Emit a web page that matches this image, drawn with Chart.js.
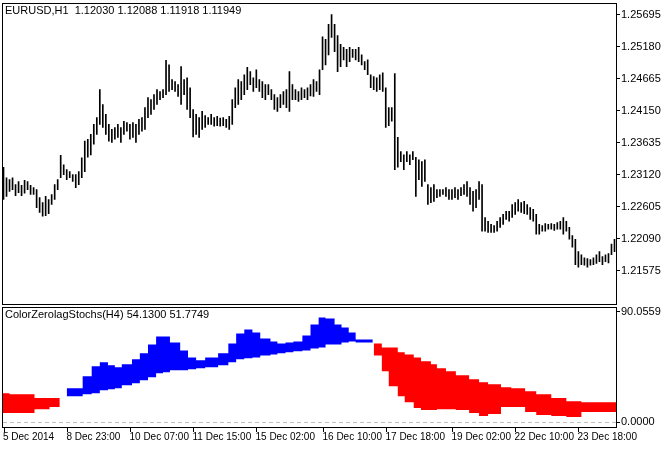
<!DOCTYPE html>
<html>
<head>
<meta charset="utf-8">
<script src="https://cdn.jsdelivr.net/npm/chart.js@4"></script>
<style>
  body { margin: 0; background: #fff; overflow: hidden; }
  #wrap { position: relative; width: 668px; height: 449px; overflow: hidden; }
  canvas { position: absolute; left: 0; }
</style>
</head>
<body>
<div id="wrap">
  <canvas id="osc" style="top:299px" width="668" height="150"></canvas>
  <canvas id="price" style="top:-5px" width="668" height="316"></canvas>
</div>
<script>
// H1 bars, high / low
const highs = [1.2324,1.2307,1.2304,1.2307,1.2296,1.2301,1.2295,1.2303,1.2301,1.2295,1.2291,1.2288,1.2275,1.2267,1.2277,1.2272,1.2280,1.2296,1.2304,1.2343,
  1.2328,1.2320,1.2317,1.2312,1.2312,1.2317,1.2339,1.2366,1.2369,1.2377,1.2393,1.2404,1.2449,1.2425,1.2409,1.2393,1.2385,1.2388,1.2393,1.2388,
  1.2398,1.2396,1.2393,1.2396,1.2393,1.2401,1.2404,1.2420,1.2436,1.2433,1.2441,1.2449,1.2446,1.2449,1.2496,1.2489,1.2465,1.2462,1.2457,1.2486,
  1.2465,1.2468,1.2452,1.2417,1.2409,1.2404,1.2414,1.2407,1.2404,1.2409,1.2404,1.2406,1.2403,1.2404,1.2401,1.2406,1.2433,1.2452,1.2465,1.2462,
  1.2473,1.2485,1.2478,1.2468,1.2481,1.2465,1.2462,1.2457,1.2457,1.2449,1.2441,1.2436,1.2441,1.2446,1.2449,1.2478,1.2457,1.2449,1.2446,1.2452,
  1.2449,1.2452,1.2457,1.2465,1.2462,1.2481,1.2534,1.2530,1.2554,1.2570,1.2554,1.2536,1.2522,1.2517,1.2514,1.2517,1.2514,1.2514,1.2517,1.2505,
  1.2494,1.2497,1.2473,1.2470,1.2468,1.2473,1.2476,1.2452,1.2420,1.2420,1.2475,1.2372,1.2349,1.2344,1.2349,1.2344,1.2349,1.2340,1.2336,1.2333,
  1.2336,1.2296,1.2291,1.2296,1.2288,1.2288,1.2288,1.2291,1.2288,1.2288,1.2291,1.2288,1.2291,1.2296,1.2301,1.2291,1.2285,1.2288,1.2301,1.2296,
  1.2243,1.2237,1.2232,1.2230,1.2237,1.2243,1.2248,1.2253,1.2253,1.2264,1.2267,1.2272,1.2267,1.2269,1.2264,1.2259,1.2256,1.2248,1.2232,1.2230,
  1.2233,1.2232,1.2233,1.2232,1.2235,1.2237,1.2243,1.2237,1.2227,1.2214,1.2208,1.2188,1.2183,1.2178,1.2177,1.2175,1.2178,1.2183,1.2188,1.2180,
  1.2183,1.2185,1.2200,1.2208];
const lows = [1.2272,1.2277,1.2285,1.2288,1.2278,1.2283,1.2278,1.2282,1.2288,1.2280,1.2280,1.2259,1.2251,1.2245,1.2246,1.2249,1.2264,1.2272,1.2288,1.2307,
  1.2312,1.2304,1.2307,1.2301,1.2291,1.2296,1.2307,1.2317,1.2340,1.2344,1.2361,1.2377,1.2393,1.2388,1.2377,1.2366,1.2364,1.2369,1.2372,1.2364,
  1.2377,1.2382,1.2369,1.2372,1.2364,1.2377,1.2382,1.2385,1.2404,1.2409,1.2417,1.2425,1.2433,1.2436,1.2441,1.2446,1.2449,1.2446,1.2438,1.2425,
  1.2441,1.2417,1.2404,1.2373,1.2377,1.2372,1.2385,1.2388,1.2393,1.2393,1.2390,1.2391,1.2390,1.2391,1.2388,1.2385,1.2393,1.2420,1.2425,1.2433,
  1.2441,1.2449,1.2457,1.2446,1.2452,1.2446,1.2436,1.2433,1.2441,1.2433,1.2417,1.2414,1.2420,1.2425,1.2420,1.2414,1.2433,1.2433,1.2430,1.2433,
  1.2436,1.2433,1.2439,1.2438,1.2446,1.2441,1.2481,1.2489,1.2505,1.2533,1.2510,1.2478,1.2486,1.2497,1.2486,1.2494,1.2501,1.2497,1.2494,1.2489,
  1.2481,1.2473,1.2452,1.2449,1.2446,1.2449,1.2446,1.2388,1.2391,1.2398,1.2320,1.2324,1.2333,1.2320,1.2333,1.2328,1.2336,1.2277,1.2304,1.2293,
  1.2301,1.2264,1.2267,1.2269,1.2275,1.2277,1.2280,1.2277,1.2272,1.2272,1.2275,1.2272,1.2278,1.2280,1.2277,1.2264,1.2253,1.2259,1.2272,1.2221,
  1.2221,1.2219,1.2219,1.2219,1.2221,1.2227,1.2232,1.2240,1.2237,1.2243,1.2248,1.2253,1.2251,1.2249,1.2248,1.2240,1.2237,1.2216,1.2216,1.2221,
  1.2221,1.2224,1.2224,1.2222,1.2224,1.2224,1.2216,1.2221,1.2208,1.2195,1.2167,1.2163,1.2167,1.2166,1.2163,1.2166,1.2167,1.2169,1.2172,1.2167,
  1.2172,1.2170,1.2183,1.2188];

const priceTicks = [1.25695, 1.25180, 1.24665, 1.24150, 1.23635, 1.23120, 1.22605, 1.22090, 1.21575];
const timeTickIdx = [0, 21, 42, 63, 84, 106, 127, 149, 170, 191];
const timeTickText = ['5 Dec 2014', '8 Dec 23:00', '10 Dec 07:00', '11 Dec 15:00', '15 Dec 02:00',
  '16 Dec 10:00', '17 Dec 18:00', '19 Dec 02:00', '22 Dec 10:00', '23 Dec 18:00'];

// oscillator bands (H4 steps): start bar index, upper, lower
const red1X = [-0.5, 2, 10.3, 15.3, 17.5, 18.7];
const red1Up = [26.0, 23.5, 22.7, 19.5, 19.5, 19.5];
const red1Lo = [20.3, 7.3, 7.3, 10.5, 12.2, 12.2];

const blueX = [21, 26.3, 29.3, 32, 34.7, 37, 39.3, 42.7, 45.3, 48, 50.7, 53, 55.3, 58.7, 61.3, 64, 67, 71.3, 74.7, 77.3,
  80, 82.7, 85.3, 88.7, 91, 93.7, 96.3, 99.3, 102, 104.7, 107, 110, 112.3, 114.7, 117, 120, 122.7];
const blueUp = [22.7, 27.6, 37.3, 45.4, 48.7, 46.2, 44.6, 47.0, 51.1, 56.0, 63.3, 69.7, 69.7, 64.9, 58.4, 52.7, 50.3, 52.7, 56.0, 64.1,
  72.2, 75.4, 73.0, 68.1, 65.7, 64.1, 64.9, 65.7, 70.6, 79.5, 85.2, 84.3, 79.5, 77.0, 73.0, 67.3, 67.3];
const blueLo = [20.3, 21.1, 22.7, 23.5, 26.0, 26.8, 27.6, 30.0, 31.6, 34.1, 36.5, 39.7, 40.6, 42.2, 42.2, 43.0, 43.8, 44.6, 46.2, 48.7,
  51.1, 51.9, 52.7, 54.3, 55.1, 56.0, 56.8, 57.6, 58.4, 60.0, 60.8, 63.3, 63.3, 64.9, 65.7, 64.9, 64.9];

const red2X = [123, 125.7, 128, 131, 133.3, 136.3, 138.7, 142, 144, 147, 150.3, 154.7, 158, 161, 165.3, 168.7, 173.3, 177, 182, 187, 192, 198.7, 203.5];
const red2Up = [64.9, 64.1, 60.8, 60.8, 56.8, 55.1, 52.7, 49.5, 47.0, 43.8, 41.4, 38.1, 34.9, 32.4, 30.8, 28.4, 27.6, 25.1, 22.7, 19.5, 17.0, 16.2, 16.2];
const red2Lo = [63.3, 54.3, 41.4, 29.2, 21.1, 16.2, 11.4, 9.7, 9.7, 10.5, 10.5, 9.7, 7.3, 4.9, 6.5, 12.2, 12.2, 8.1, 5.7, 4.9, 4.1, 8.1, 8.1];

const FONT = { family: '"Liberation Sans", Arial, sans-serif', size: 11 };

// black frame around plot area + title text
const framePlugin = {
  id: 'frame',
  afterDraw(chart, args, opts) {
    const { ctx, chartArea: a } = chart;
    ctx.save();
    ctx.strokeStyle = '#000';
    ctx.lineWidth = 1;
    ctx.strokeRect(Math.round(a.left) + 0.5, Math.round(a.top) + 0.5, Math.round(a.width), Math.round(a.height));
    ctx.fillStyle = '#000';
    ctx.font = '11px ' + FONT.family;
    ctx.textBaseline = 'top';
    ctx.fillText(opts.title, a.left + 3, a.top + 3);
    ctx.restore();
  }
};

// H-L bars through the category scale
new Chart(document.getElementById('price'), {
  type: 'bar',
  data: {
    labels: highs.map((_, i) => i),
    datasets: [{
      data: highs.map((h, i) => [lows[i], h]),
      backgroundColor: '#000',
      barThickness: 1,
      borderSkipped: false
    }]
  },
  options: {
    responsive: false,
    animation: false,
    layout: { padding: { left: 2 } },
    plugins: { legend: { display: false }, tooltip: { enabled: false },
      frame: { title: 'EURUSD,H1  1.12030 1.12088 1.11918 1.11949' } },
    scales: {
      x: { display: false },
      y: {
        position: 'right',
        min: 1.21046, max: 1.25892,
        afterFit(s) { s.width = 52; },
        afterBuildTicks(s) { s.ticks = priceTicks.map(v => ({ value: v })); },
        grid: { drawOnChartArea: false, tickLength: 4, color: '#000' },
        border: { display: false },
        ticks: { color: '#000', font: FONT, padding: 1, callback: v => v.toFixed(5) }
      }
    }
  },
  plugins: [framePlugin]
});

const pts = (xs, ys) => xs.map((x, i) => ({ x, y: ys[i] }));
function band(xs, up, lo, color) {
  const common = { stepped: 'after', pointRadius: 0, borderWidth: 0, borderColor: color, backgroundColor: color };
  return [
    { ...common, data: pts(xs, up), fill: '+1' },
    { ...common, data: pts(xs, lo), fill: false }
  ];
}

// dashed zero level + time labels
const oscPlugin = {
  id: 'oscExtras',
  afterDraw(chart) {
    const { ctx, chartArea: a, scales } = chart;
    ctx.save();
    const y0 = Math.round(scales.y.getPixelForValue(0)) + 0.5;
    ctx.strokeStyle = '#c0c0c0';
    ctx.setLineDash([4, 3]);
    ctx.beginPath(); ctx.moveTo(a.left + 1, y0); ctx.lineTo(a.right, y0); ctx.stroke();
    ctx.setLineDash([]);
    ctx.strokeStyle = '#000';
    ctx.fillStyle = '#000';
    ctx.font = '10px ' + FONT.family;
    ctx.textBaseline = 'top';
    timeTickIdx.forEach((idx, i) => {
      const x = Math.round(scales.x.getPixelForValue(idx)) + 0.5;
      ctx.beginPath(); ctx.moveTo(x, a.bottom); ctx.lineTo(x, a.bottom + 5); ctx.stroke();
      ctx.fillText(timeTickText[i], i === 0 ? 3 : x - 1, a.bottom + 5);
    });
    ctx.restore();
  }
};

new Chart(document.getElementById('osc'), {
  type: 'line',
  data: {
    datasets: [
      ...band(red1X, red1Up, red1Lo, '#ff0000'),
      ...band(blueX, blueUp, blueLo, '#0000ff'),
      ...band(red2X, red2Up, red2Lo, '#ff0000')
    ]
  },
  options: {
    responsive: false,
    animation: false,
    layout: { padding: { left: 2 } },
    plugins: { legend: { display: false }, tooltip: { enabled: false },
      frame: { title: 'ColorZerolagStochs(H4) 54.1300 51.7749' } },
    scales: {
      x: { type: 'linear', min: -0.5, max: 203.5, display: true,
        afterFit(s) { s.height = 22; },
        grid: { display: false }, border: { display: false }, ticks: { display: false } },
      y: {
        position: 'right',
        min: -4.06, max: 94.1,
        afterFit(s) { s.width = 52; },
        afterBuildTicks(s) { s.ticks = [{ value: 90.0559 }, { value: 0 }]; },
        grid: { drawOnChartArea: false, tickLength: 4, color: '#000' },
        border: { display: false },
        ticks: { color: '#000', font: FONT, padding: 1, callback: v => v.toFixed(4) }
      }
    }
  },
  plugins: [framePlugin, oscPlugin]
});
</script>
</body>
</html>
